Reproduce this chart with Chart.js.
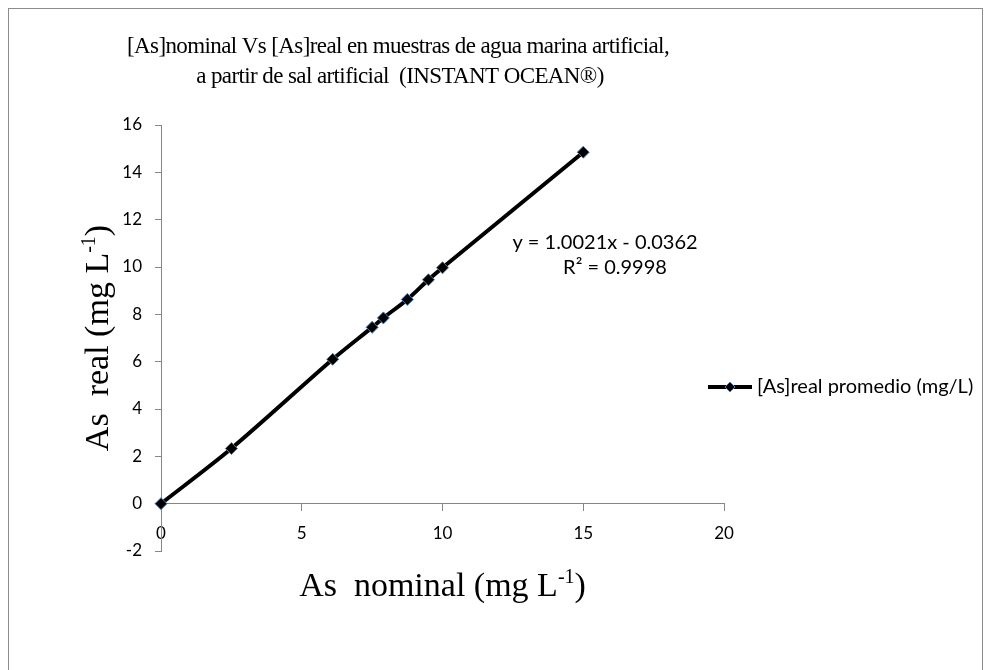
<!DOCTYPE html>
<html>
<head>
<meta charset="utf-8">
<script src="https://cdn.jsdelivr.net/npm/chart.js@4.4.1/dist/chart.umd.min.js"></script>
<style>
  html, body { margin: 0; padding: 0; background: #ffffff; }
  #wrap { position: relative; width: 991px; height: 670px; overflow: hidden; }
  #frame { position: absolute; left: 8px; top: 8px; width: 975px; height: 700px; border: 1px solid #8c8c8c; box-sizing: border-box; }
  #chart { position: absolute; left: 0; top: 0; }
</style>
</head>
<body>
<div id="wrap">
  <div id="frame"></div>
  <canvas id="chart" width="991" height="670"></canvas>
</div>
<script>
// data
const nominalValues = [0, 2.5, 6.1, 7.5, 7.9, 8.75, 9.5, 10, 15];
const realValues = [0, 2.33, 6.1, 7.45, 7.85, 8.63, 9.46, 9.97, 14.85];
const seriesName = '[As]real promedio (mg/L)';
const titleLines = [
    '[As]nominal Vs [As]real en muestras de agua marina artificial,',
    'a partir de sal artificial  (INSTANT OCEAN\u00AE)'
];
const trendLabel = ['y = 1.0021x - 0.0362', 'R\u00B2 = 0.9998'];

const axisGray = '#868686';
const markerBlue = '#4a7ebb';
const sansFont = 'Lato, "Open Sans", sans-serif';
const serifFont = '"Liberation Serif", "Times New Roman", serif';

// text with a small raised part, centered on (x, y)
function drawSupText(ctx, parts, x, y, size) {
    const big = size + 'px ' + serifFont;
    const small = Math.round(size * 0.6) + 'px ' + serifFont;
    let total = 0;
    parts.forEach(p => {
        ctx.font = p.sup ? small : big;
        p.w = ctx.measureText(p.text).width;
        total += p.w;
    });
    let cx = x - total / 2;
    ctx.textAlign = 'left';
    ctx.textBaseline = 'alphabetic';
    parts.forEach(p => {
        ctx.font = p.sup ? small : big;
        ctx.fillText(p.text, cx, p.sup ? y - size * 0.38 : y);
        cx += p.w;
    });
}

const overlayPlugin = {
    id: 'overlay',
    afterDraw(chart) {
        const ctx = chart.ctx;
        const area = chart.chartArea;
        ctx.save();
        ctx.fillStyle = '#000';

        // chart title, Excel draws Times a bit tight
        ctx.save();
        ctx.font = '23px ' + serifFont;
        ctx.letterSpacing = '-0.6px';
        ctx.textAlign = 'center';
        ctx.textBaseline = 'alphabetic';
        ctx.fillText(titleLines[0], 398, 53);
        ctx.fillText(titleLines[1], 400, 83);
        ctx.restore();

        // y axis title
        ctx.save();
        ctx.translate(108, (area.top + area.bottom) / 2);
        ctx.rotate(-Math.PI / 2);
        drawSupText(ctx, [
            { text: 'As  real (mg L' }, { text: '-1', sup: true }, { text: ')' }
        ], 0, 0, 34);
        ctx.restore();

        // x axis title
        drawSupText(ctx, [
            { text: 'As  nominal (mg L' }, { text: '-1', sup: true }, { text: ')' }
        ], (area.left + area.right) / 2, 596, 34);

        // trendline label
        ctx.font = '20px ' + sansFont;
        ctx.textAlign = 'center';
        ctx.textBaseline = 'middle';
        ctx.fillText(trendLabel[0], 605, 243);
        ctx.fillText(trendLabel[1], 615, 268);

        // legend entry
        const ly = 387;
        ctx.strokeStyle = '#000';
        ctx.lineWidth = 4;
        ctx.beginPath();
        ctx.moveTo(708, ly);
        ctx.lineTo(752, ly);
        ctx.stroke();
        ctx.beginPath();
        ctx.moveTo(730, ly - 5);
        ctx.lineTo(735, ly);
        ctx.lineTo(730, ly + 5);
        ctx.lineTo(725, ly);
        ctx.closePath();
        ctx.fillStyle = '#000';
        ctx.fill();
        ctx.lineWidth = 1;
        ctx.strokeStyle = markerBlue;
        ctx.stroke();
        ctx.fillStyle = '#000';
        ctx.font = '20px ' + sansFont;
        ctx.textAlign = 'left';
        ctx.fillText(seriesName, 757, ly);

        ctx.restore();
    }
};

const points = nominalValues.map((x, i) => ({ x: x, y: realValues[i] }));

new Chart(document.getElementById('chart'), {
    type: 'line',
    data: {
        datasets: [{
            label: seriesName,
            data: points,
            borderColor: '#000',
            borderWidth: 4,
            tension: 0.3,
            pointStyle: 'rectRot',
            pointRadius: 6,
            pointBackgroundColor: '#000',
            pointBorderColor: markerBlue,
            pointBorderWidth: 1,
            clip: false
        }]
    },
    options: {
        responsive: false,
        animation: false,
        devicePixelRatio: 1,
        layout: { padding: { left: 72, right: 267, top: 125, bottom: 119 } },
        plugins: {
            legend: { display: false },
            tooltip: { enabled: false },
            title: { display: false }
        },
        scales: {
            x: {
                type: 'linear',
                position: { y: 0 },
                min: 0,
                max: 20,
                ticks: {
                    stepSize: 5,
                    color: '#000',
                    padding: 13,
                    font: { family: sansFont, size: 17 }
                },
                grid: { drawOnChartArea: false, drawTicks: true, tickLength: 7, color: axisGray },
                border: { color: axisGray, width: 1 }
            },
            y: {
                type: 'linear',
                position: 'left',
                min: -2,
                max: 16,
                afterFit(scale) { scale.width = 89; },
                ticks: {
                    stepSize: 2,
                    color: '#000',
                    padding: 13,
                    font: { family: sansFont, size: 17 }
                },
                grid: { drawOnChartArea: false, drawTicks: true, tickLength: 6, color: axisGray },
                border: { color: axisGray, width: 1 }
            }
        }
    },
    plugins: [overlayPlugin]
});
</script>
</body>
</html>
